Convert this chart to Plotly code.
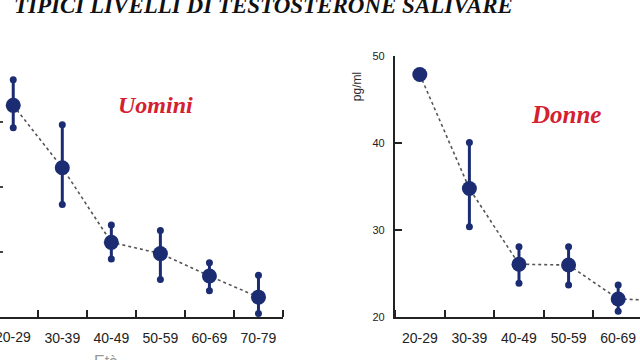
import plotly.graph_objects as go

categories = ["20-29", "30-39", "40-49", "50-59", "60-69", "70-79"]

men_mean = [131.2, 107.3, 78.7, 74.4, 65.8, 57.7]
men_high = [141.0, 123.8, 85.4, 83.2, 70.9, 66.1]
men_low = [122.6, 93.2, 72.3, 64.5, 60.2, 51.4]

women_mean = [47.9, 34.8, 26.1, 26.0, 22.1, 21.9]
women_high = [47.9, 40.1, 28.1, 28.1, 23.7, 23.4]
women_low = [47.9, 30.4, 23.9, 23.7, 20.7, 20.5]

NAVY = "#1b2c72"
LINE = "#555555"
RED = "#d42030"

xpos = list(range(len(categories)))

fig = go.Figure()


def add_series(mean, high, low, xa, ya):
    up = [h - m for h, m in zip(high, mean)]
    dn = [m - l for m, l in zip(mean, low)]
    fig.add_trace(go.Scatter(
        x=xpos, y=mean, xaxis=xa, yaxis=ya, mode="lines",
        line=dict(color=LINE, width=1.6, dash="dot"), hoverinfo="skip"))
    fig.add_trace(go.Scatter(
        x=xpos, y=mean, xaxis=xa, yaxis=ya, mode="markers",
        marker=dict(color=NAVY, size=15),
        error_y=dict(type="data", symmetric=False, array=up, arrayminus=dn,
                     color=NAVY, thickness=3, width=0)))
    ends_x = [c for c, u in zip(xpos, up) if u > 0] + \
             [c for c, d in zip(xpos, dn) if d > 0]
    ends_y = [h for h, u in zip(high, up) if u > 0] + \
             [l for l, d in zip(low, dn) if d > 0]
    fig.add_trace(go.Scatter(
        x=ends_x, y=ends_y, xaxis=xa, yaxis=ya, mode="markers",
        marker=dict(color=NAVY, size=7)))


add_series(men_mean, men_high, men_low, "x", "y")
add_series(women_mean, women_high, women_low, "x2", "y2")

ydom = [38 / 360, 308 / 360]
tickfont = dict(family="Liberation Sans", size=14, color="#222222")
AX = "#222222"


def xaxis_style(domain, rng, anchor):
    return dict(domain=domain, type="linear", range=rng,
                tickmode="array", tickvals=xpos, ticktext=categories,
                ticks="outside", ticklen=7, tickcolor="rgba(0,0,0,0)",
                showline=True, linecolor=AX, linewidth=2,
                showgrid=False, zeroline=False, tickfont=tickfont,
                anchor=anchor,
                minor=dict(tickmode="linear", tick0=0.5, dtick=1,
                           ticks="inside", ticklen=7, tickwidth=2,
                           tickcolor=AX, showgrid=False))


fig.update_layout(
    width=640, height=360, margin=dict(l=0, r=0, t=0, b=0),
    paper_bgcolor="white", plot_bgcolor="white", showlegend=False,
    xaxis=xaxis_style([0, 283 / 640], [-0.27, 5.5], "y"),
    yaxis=dict(domain=ydom, range=[50, 150], dtick=25, showline=False,
               ticks="inside", ticklen=3, tickwidth=1.5, tickcolor="#444",
               showticklabels=False, showgrid=False, zeroline=False,
               anchor="x"),
    xaxis2=xaxis_style([395 / 640, 1], [-0.5, 4.44], "y2"),
    yaxis2=dict(domain=ydom, range=[20, 50], dtick=10, showline=True,
                linecolor=AX, linewidth=2, ticks="inside", ticklen=7,
                tickwidth=2, tickcolor=AX, showgrid=False, zeroline=False,
                tickfont=dict(family="Liberation Sans", size=11, color="#222222"),
                ticksuffix="  ", anchor="x2"),
)

annotations = [
    # first category label of the left chart, cut by the left edge
    dict(text=categories[0], x=xpos[0], xref="x", y=(360 - 342) / 360,
         yref="paper", xanchor="center", yanchor="middle", showarrow=False,
         font=tickfont),
    dict(text="<b><i>TIPICI LIVELLI DI TESTOSTERONE SALIVARE</i></b>",
         x=263 / 640, y=1 + 1 / 360, xref="paper", yref="paper",
         xanchor="center", yanchor="middle", showarrow=False,
         font=dict(family="Liberation Serif", size=23, color="#111")),
    dict(text="<b><i>Uomini</i></b>", x=155 / 640, y=1 - 102 / 360,
         xref="paper", yref="paper", xanchor="center", yanchor="middle",
         showarrow=False, font=dict(family="Liberation Serif", size=24, color=RED)),
    dict(text="<b><i>Donne</i></b>", x=566 / 640, y=1 - 112 / 360,
         xref="paper", yref="paper", xanchor="center", yanchor="middle",
         showarrow=False, font=dict(family="Liberation Serif", size=25, color=RED)),
    dict(text="pg/ml", textangle=-90, x=357 / 640, y=1 - 84 / 360,
         xref="paper", yref="paper", xanchor="center", yanchor="middle",
         showarrow=False, font=dict(family="Liberation Sans", size=12, color="#2a2a2a")),
    dict(text="Età", x=106 / 640, y=1 - 368 / 360,
         xref="paper", yref="paper", xanchor="center", yanchor="middle",
         showarrow=False, font=dict(family="Liberation Sans", size=16, color="#999")),
]
fig.update_layout(annotations=annotations)

fig.write_html("out.html")
